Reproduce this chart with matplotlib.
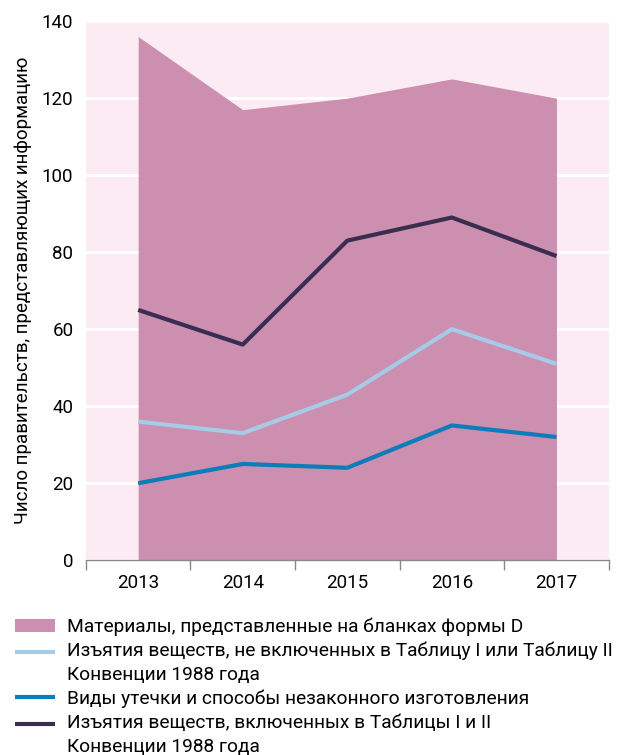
import matplotlib
matplotlib.use("Agg")
import matplotlib.pyplot as plt
from matplotlib.legend_handler import HandlerLine2D
import numpy as np

years = ["2013", "2014", "2015", "2016", "2017"]
forms_d = [136, 117, 120, 125, 120]
not_in_tables = [36, 33, 43, 60, 51]
diversion = [20, 25, 24, 35, 32]
in_tables = [65, 56, 83, 89, 79]

labels = [
    "Материалы, представленные на бланках формы D",
    "Изъятия веществ, не включенных в Таблицу I или Таблицу II\nКонвенции 1988 года",
    "Виды утечки и способы незаконного изготовления",
    "Изъятия веществ, включенных в Таблицы I и II\nКонвенции 1988 года",
]


# legend line next to the first row of a two-row label
class FirstLineHandler(HandlerLine2D):
    def create_artists(self, legend, orig_handle, xdescent, ydescent,
                       width, height, fontsize, trans):
        return super().create_artists(legend, orig_handle, xdescent, ydescent - 16,
                                      width, height, fontsize, trans)


plt.rcParams['font.family'] = ['Roboto', 'DejaVu Sans']

fig = plt.figure(figsize=(6.18, 7.55), dpi=100)
ax = fig.add_axes([0.139, 0.258, 0.846, 0.714])
ax.set_facecolor("#fcebf2")

x = np.arange(len(years))
area = ax.fill_between(x, 0, forms_d, color="#cc8fb0", lw=0, zorder=2)
l1, = ax.plot(x, not_in_tables, color="#a6cbe6", lw=3, zorder=3, solid_capstyle="butt")
l2, = ax.plot(x, diversion, color="#0a7dba", lw=3, zorder=3, solid_capstyle="butt")
l3, = ax.plot(x, in_tables, color="#3b2d4f", lw=3, zorder=3, solid_capstyle="butt")

ax.set_xlim(-0.5, len(years) - 0.5)
ax.set_ylim(0, 140)
ax.set_yticks(range(0, 141, 20))
ax.yaxis.grid(True, color="white", lw=2.2, zorder=1)
ax.set_axisbelow(True)

ax.set_xticks(x)
ax.set_xticklabels(years, fontsize=13.5)
ax.set_xticks(np.arange(-0.5, len(years)), minor=True)
ax.tick_params(axis="x", which="major", length=0, pad=10)
ax.tick_params(axis="x", which="minor", length=7, color="#888888", width=1)
ax.tick_params(axis="y", length=0, labelsize=13.5, pad=9)

for s in ["top", "right", "left"]:
    ax.spines[s].set_visible(False)
ax.spines["bottom"].set_color("#888888")
ax.spines["bottom"].set_linewidth(1)

ax.set_ylabel("Число правительств, представляющих информацию", fontsize=13.5, labelpad=7)

leg = fig.legend([area, l1, l2, l3], labels, loc="upper left", bbox_to_anchor=(0.024, 0.182),
                 frameon=False, fontsize=13.8, handlelength=2.1, handletextpad=0.6,
                 labelspacing=0.3, borderaxespad=0, borderpad=0,
                 handler_map={l1: FirstLineHandler(), l3: FirstLineHandler()})
for t in leg.get_texts():
    t.set_linespacing(1.4)

fig.savefig("out.png", dpi=100)
